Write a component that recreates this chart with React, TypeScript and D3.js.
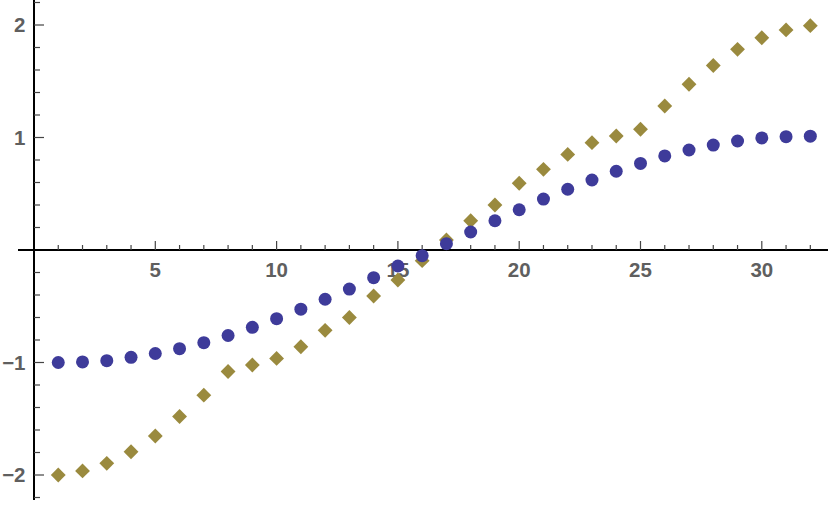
import React from "react";
import * as d3 from "d3";

const xs: number[] = Array.from({ length: 32 }, (_, i) => i + 1);
const blueValues: number[] = [
  -1.0, -0.995, -0.984, -0.954, -0.92, -0.877, -0.824, -0.76, -0.687, -0.61,
  -0.526, -0.438, -0.347, -0.246, -0.142, -0.05, 0.056, 0.16, 0.26, 0.358,
  0.453, 0.54, 0.622, 0.70, 0.77, 0.836, 0.889, 0.933, 0.969, 0.996, 1.007, 1.012,
];
const oliveValues: number[] = [
  -2.0, -1.964, -1.896, -1.793, -1.653, -1.48, -1.29, -1.08, -1.022, -0.964,
  -0.86, -0.714, -0.6, -0.409, -0.267, -0.095, 0.089, 0.26, 0.4, 0.593,
  0.717, 0.85, 0.954, 1.013, 1.073, 1.28, 1.473, 1.64, 1.784, 1.887, 1.956, 1.994,
];
const xTickLabels: number[] = [5, 10, 15, 20, 25, 30];
const yTickLabels: number[] = [-2, -1, 1, 2];

const W = 830;
const H = 505;

export default function App() {
  const x = d3.scaleLinear().domain([0, 30]).range([34, 34 + 24.26 * 30]);
  const y = d3.scaleLinear().domain([-2, 2]).range([475, 25]);
  const x0 = x(0);
  const y0 = y(0);

  const xMinor = d3.range(1, 33);
  const yMinor = d3.range(-22, 23).map((v) => v / 10).filter((v) => Math.abs(v) > 1e-9 && Math.round(v * 10) % 2 === 0);

  const fmt = (v: number) => (v < 0 ? "\u2212" + Math.abs(v) : String(v));
  const diamond = d3.symbol().type(d3.symbolSquare).size(110)();

  return (
    <svg width={W} height={H} style={{ position: "absolute", left: 0, top: 0, display: "block" }}>
      <rect width={W} height={H} fill="white" />
      {/* x axis */}
      <line x1={18} x2={828} y1={y0} y2={y0} stroke="#000" strokeWidth={2} />
      {xMinor.map((v) => {
        const major = v % 5 === 0;
        return (
          <line key={"xt" + v} x1={x(v)} x2={x(v)} y1={y0} y2={y0 - (major ? 9 : 5)} stroke="#444" strokeWidth={1.2} />
        );
      })}
      {/* y axis */}
      <line x1={x0} x2={x0} y1={0} y2={500} stroke="#000" strokeWidth={2} />
      {yMinor.map((v) => {
        const major = Math.abs(v - Math.round(v)) < 1e-9;
        return (
          <line key={"yt" + v} x1={x0} x2={x0 + (major ? 10 : 6)} y1={y(v)} y2={y(v)} stroke="#444" strokeWidth={1.2} />
        );
      })}
      {xTickLabels.map((v) => (
        <text key={"xl" + v} x={x(v)} y={277} textAnchor="middle" fontFamily="Liberation Sans, Arial, sans-serif" fontWeight="bold" fontSize={20.5} fill="#5f5f5f">
          {v}
        </text>
      ))}
      {yTickLabels.map((v) => (
        <text key={"yl" + v} x={25.5} y={y(v)} dy="0.35em" textAnchor="end" fontFamily="Liberation Sans, Arial, sans-serif" fontWeight="bold" fontSize={20.5} fill="#5f5f5f">
          {fmt(v)}
        </text>
      ))}
      {/* series */}
      {xs.map((v, i) => (
        <path key={"o" + v} d={diamond || ""} transform={`translate(${x(v)},${y(oliveValues[i])}) rotate(45)`} fill="#9a8a3e" />
      ))}
      {xs.map((v, i) => (
        <circle key={"b" + v} cx={x(v)} cy={y(blueValues[i])} r={6.5} fill="#3e3b9a" />
      ))}
    </svg>
  );
}
